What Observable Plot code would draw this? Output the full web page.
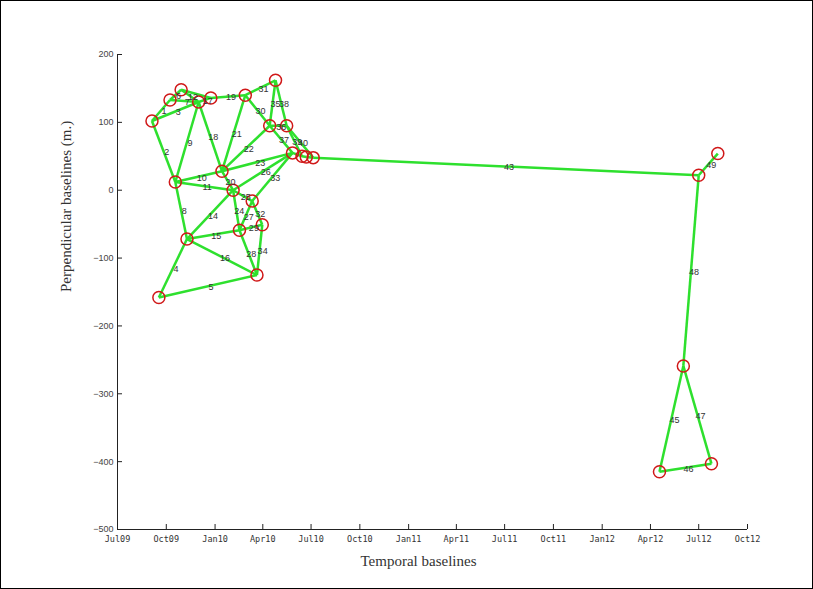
<!DOCTYPE html>
<html><head><meta charset="utf-8">
<script src="https://cdn.jsdelivr.net/npm/d3@7"></script>
<script src="https://cdn.jsdelivr.net/npm/@observablehq/plot@0.6"></script>
<style>
body{margin:0;background:#fff;}
#chart svg{display:block;outline:1px solid #000;outline-offset:-1px;}
</style></head><body><div id="chart"></div>
<script>
// acquisition nodes (sorted by date)
const nodeDates = ["2009-09-04","2009-09-17","2009-10-08","2009-10-18","2009-10-29","2009-11-09","2009-12-01","2009-12-24","2010-01-14","2010-02-04","2010-02-16","2010-02-27","2010-03-12","2010-03-21","2010-03-31","2010-04-14","2010-04-25","2010-05-16","2010-05-27","2010-06-14","2010-06-22","2010-07-05","2012-04-18","2012-06-02","2012-07-01","2012-07-25","2012-08-06"];
const nodeBaselines = [102,-158,133,12,148,-72,130,136,28,0,-59,140,-16,-125,-51,95,162,95,55,50,49,48,-415,-259,22,-403,54];
// interferometric pairs
const edgeNumbers = [1,2,3,4,5,6,7,8,9,10,11,12,13,14,15,16,17,18,19,20,21,22,23,24,25,26,27,28,29,30,31,32,33,34,35,36,37,38,39,40,41,42,43,44,45,46,47,48,49];
const edgeFrom = [0,0,0,1,1,2,2,3,3,3,3,4,4,5,5,5,6,6,7,8,8,8,8,9,9,9,10,10,10,11,11,12,12,13,15,15,15,16,17,17,18,19,21,20,22,22,23,23,24];
const edgeTo   = [2,3,6,5,13,4,6,5,6,8,9,6,7,9,10,13,7,8,11,9,11,15,18,10,12,18,12,13,14,15,16,14,18,14,16,17,18,17,19,21,19,20,24,21,23,25,25,24,26];
const hiddenLabels = [13,41,42,44];
// axis ticks
const xTickDates = ["2009-07-01","2009-10-01","2010-01-01","2010-04-01","2010-07-01","2010-10-01","2011-01-01","2011-04-01","2011-07-01","2011-10-01","2012-01-01","2012-04-01","2012-07-01","2012-10-01"];
const xTickLabels = ["Jul09","Oct09","Jan10","Apr10","Jul10","Oct10","Jan11","Apr11","Jul11","Oct11","Jan12","Apr12","Jul12","Oct12"];
const yTicks = [200,100,0,-100,-200,-300,-400,-500];

const parse = s => new Date(s + "T00:00:00Z");
const nodes = nodeDates.map((d, i) => ({date: parse(d), b: nodeBaselines[i]}));
const edges = edgeNumbers.map((n, i) => {
  const a = nodes[edgeFrom[i]], c = nodes[edgeTo[i]];
  return {n, a, c, mid: new Date((+a.date + +c.date) / 2), midB: (a.b + c.b) / 2};
});
const xTicks = xTickDates.map(parse);
const labelMap = new Map(xTicks.map((d, i) => [+d, xTickLabels[i]]));

const chart = Plot.plot({
  width: 813, height: 589,
  marginLeft: 117, marginRight: 66, marginTop: 54, marginBottom: 60,
  style: {fontFamily: "Liberation Sans, Arial, sans-serif", fontSize: "9px", color: "#333", background: "#fff"},
  x: {type: "utc", domain: [xTicks[0], xTicks[xTicks.length - 1]]},
  y: {domain: [-500, 200]},
  marks: [
    Plot.axisY({ticks: yTicks, tickSize: -5, tickPadding: 9, label: null, fontSize: 9, fill: "#444", stroke: "#222"}),
    Plot.axisX({ticks: xTicks, tickFormat: d => labelMap.get(+d), tickSize: -5, tickPadding: 11, label: null,
      fontFamily: "DejaVu Sans Mono, monospace", fontSize: 8.5, fill: "#333", stroke: "#222"}),
    Plot.ruleX([xTicks[0]], {stroke: "#222", strokeWidth: 1}),
    Plot.ruleY([-500], {stroke: "#222", strokeWidth: 1}),
    Plot.link(edges, {x1: d => d.a.date, y1: d => d.a.b, x2: d => d.c.date, y2: d => d.c.b,
      stroke: "#2ee02e", strokeWidth: 2.5}),
    Plot.dot(nodes, {x: "date", y: "b", r: 6, stroke: "#d01818", strokeWidth: 1.5, fill: "none"}),
    Plot.text(edges.filter(d => !hiddenLabels.includes(d.n)), {x: "mid", y: "midB", text: d => String(d.n),
      dx: 3, dy: 1, fontSize: 9, fill: "#333"}),
    Plot.text(["Perpendicular baselines (m.)"], {frameAnchor: "left", rotate: -90, dx: -51,
      fontFamily: "Liberation Serif, serif", fontSize: 15, fill: "#333"}),
    Plot.text(["Temporal baselines"], {frameAnchor: "bottom", dy: 36, dx: -14,
      fontFamily: "Liberation Serif, serif", fontSize: 15, fill: "#333"})
  ]
});
document.getElementById("chart").append(chart);
</script></body></html>
